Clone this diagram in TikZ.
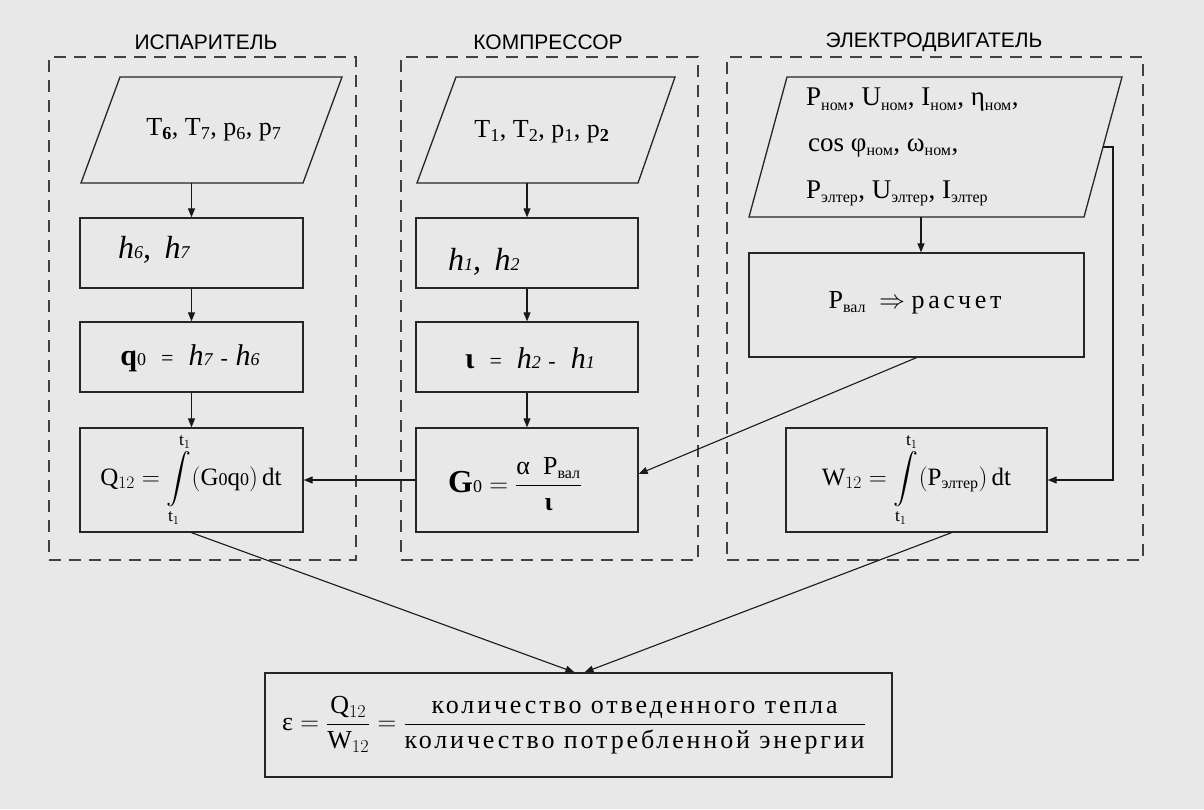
\documentclass[tikz,border=0pt]{standalone}
\usepackage{fix-cm}
\usepackage{amsmath}
\usepackage{fontspec}
\setmainfont{Liberation Serif}
\newfontfamily\hdrfont{Liberation Sans}
\newfontfamily\spfont[LetterSpace=14]{Liberation Serif}
\newfontfamily\spbfont[LetterSpace=11]{Liberation Serif}
\usetikzlibrary{arrows.meta,calc}
\newcommand\smd[1]{{\fontsize{18}{18}\selectfont #1}}
\newcommand\hdg[1]{{\fontsize{22}{22}\selectfont #1}}
\newcommand\sbx[1]{\textsubscript{\fontsize{16}{16}\selectfont #1}}
\begin{document}
\begin{tikzpicture}[x=1pt,y=-1pt,
  bx/.style={draw=black!85, line width=1.3pt, rectangle, inner sep=0pt},
  pline/.style={draw=black!85, line width=1.3pt, line join=miter},
  grp/.style={draw=black!75, line width=1.6pt, dash pattern=on 12pt off 8pt, rectangle, inner sep=0pt},
  arr/.style={draw=black!90, line width=1.1pt, -{Triangle[length=9pt,width=7pt]}},
  hdr/.style={font=\hdrfont\fontsize{21}{21}\selectfont, inner sep=0pt},
  txt/.style={font=\fontsize{26}{30}\selectfont, inner sep=0pt},
  ftxt/.style={font=\fontsize{25}{30}\selectfont, inner sep=0pt},
]
\fill[fill={rgb,255:red,232;green,232;blue,232}] (0,0) rectangle (1204,809);
\useasboundingbox (0,0) rectangle (1204,809);

% group containers
\node[grp, minimum width=307pt, minimum height=503pt] (cL) at (202.5,308.5) {};
\node[grp, minimum width=297pt, minimum height=503pt] (cM) at (549.5,308.5) {};
\node[grp, minimum width=416pt, minimum height=503pt] (cR) at (935,308.5) {};

% headers
\node[hdr] (hdrL) at (206,42) {ИСПАРИТЕЛЬ};
\node[hdr] (hdrM) at (548,42) {КОМПРЕССОР};
\node[hdr] (hdrR) at (934,42) {ЭЛЕКТРОДВИГАТЕЛЬ};

% parallelograms
\coordinate (pL1) at (120,77); \coordinate (pL2) at (342,77);
\coordinate (pL3) at (303,183); \coordinate (pL4) at (81,183);
\draw[pline] (pL1) -- (pL2) -- (pL3) -- (pL4) -- cycle;
\coordinate (pLb) at (191.5,183);

\coordinate (pM1) at (456,77); \coordinate (pM2) at (675,77);
\coordinate (pM3) at (638,183); \coordinate (pM4) at (417,183);
\draw[pline] (pM1) -- (pM2) -- (pM3) -- (pM4) -- cycle;
\coordinate (pMb) at (527,183);

\coordinate (pR1) at (787,77); \coordinate (pR2) at (1122,77);
\coordinate (pR3) at (1084,217); \coordinate (pR4) at (749,217);
\draw[pline] (pR1) -- (pR2) -- (pR3) -- (pR4) -- cycle;
\coordinate (pRb) at (921,217);
\coordinate (pRs) at (1103,147);
\coordinate (pRturn) at (1113,147);

% parallelogram texts
\node[txt] (tL) at (214,130) {T\textsubscript{\textbf{6}}, T\textsubscript{7}, p\textsubscript{6}, p\textsubscript{7}};
\node[txt] (tM) at (542,132) {T\textsubscript{1}, T\textsubscript{2}, p\textsubscript{1}, p\textsubscript{\textbf{2}}};
\node[txt, anchor=west, font=\fontsize{27}{30}\selectfont] (tR1) at (806,100) {P\sbx{ном}, U\sbx{ном}, I\sbx{ном}, η\sbx{ном},};
\node[txt, anchor=west, font=\fontsize{27}{30}\selectfont] (tR2) at (808,148) {cos φ\sbx{ном}, ω\sbx{ном},};
\node[txt, anchor=west, font=\fontsize{27}{30}\selectfont] (tR3) at (806,193) {P\sbx{элтер}, U\sbx{элтер}, I\sbx{элтер}};

% boxes
\node[bx, minimum width=223pt, minimum height=70pt] (hL) at (191.5,253) {};
\node[bx, minimum width=223pt, minimum height=70pt] (qL) at (191.5,357) {};
\node[bx, minimum width=223pt, minimum height=104pt] (QL) at (191.5,480) {};
\node[bx, minimum width=222pt, minimum height=70pt] (hM) at (527,253) {};
\node[bx, minimum width=222pt, minimum height=70pt] (lM) at (527,357) {};
\node[bx, minimum width=222pt, minimum height=104pt] (GM) at (527,480) {};
\node[bx, minimum width=335pt, minimum height=104pt] (pv) at (916.5,305) {};
\node[bx, minimum width=261pt, minimum height=104pt] (WR) at (916.5,480) {};
\node[bx, minimum width=627pt, minimum height=104pt] (bot) at (578.5,725) {};

% box texts
\node[txt, anchor=west, font=\fontsize{32}{34}\selectfont] (hLt) at (118,250) {\itshape h\smd{6}, \,h\smd{7}};
\node[txt, anchor=west, font=\fontsize{32}{34}\selectfont] (hMt) at (448,262) {\itshape h\smd{1}, \,h\smd{2}};
\node[txt, font=\fontsize{30}{32}\selectfont] (qLt) at (190,358) {{\bfseries q}\smd{0} \ \hdg{=} \ \textit{h\smd{7}} \hdg{-} \textit{h\smd{6}}};
\node[txt, font=\fontsize{30}{32}\selectfont] (lMt) at (530,358) {{\bfseries ι} \ \hdg{=} \ \textit{h\smd{2}} \hdg{-} \ \textit{h\smd{1}}};
\node[ftxt] (QLt) at (191,480) {$\mathrm{Q}_{12} = \displaystyle\int\limits_{\mathrm{t}_1}^{\mathrm{t}_1}(\mathrm{G}\text{\smd{0}}\mathrm{q}\text{\smd{0}})\,\mathrm{dt}$};
\node[txt] (GMt) at (515,484) {$\text{\fontsize{32}{32}\selectfont\bfseries G}\text{\smd{0}} = \dfrac{\text{α\ \ P\sbx{вал}}}{\text{\bfseries ι}}$};
\node[txt] (pvt) at (915,303) {P\sbx{вал}\ \ $\Rightarrow$ {\spfont расчет}};
\node[ftxt] (WRt) at (916.5,480) {$\mathrm{W}_{12} = \displaystyle\int\limits_{\mathrm{t}_1}^{\mathrm{t}_1}(\text{P\sbx{элтер}})\,\mathrm{dt}$};
\node[txt, font=\fontsize{26}{30}\selectfont] (bott) at (574,725) {$\text{ε} = \dfrac{\mathrm{Q}_{12}}{\mathrm{W}_{12}} = \dfrac{\text{\spbfont количество отведенного тепла}}{\text{\spbfont количество потребленной энергии}}$};

% connectors
\draw[arr] (pLb) -- (hL.north);
\draw[arr] (hL.south) -- (qL.north);
\draw[arr] (qL.south) -- (QL.north);
\draw[arr] (pMb) -- (hM.north);
\draw[arr] (hM.south) -- (lM.north);
\draw[arr] (lM.south) -- (GM.north);
\draw[arr] (pRb) -- (pRb |- pv.north);
\draw[arr] (pRs) -- (pRturn) |- (WR.east);
\draw[arr] (pv.south) -- ([yshift=6pt]GM.east);
\draw[arr] (GM.west) -- (QL.east);
\draw[arr] (QL.south) -- ([xshift=-4pt]bot.north);
\draw[arr] ([xshift=35pt]WR.south) -- ([xshift=6pt]bot.north);
\end{tikzpicture}
\end{document}
